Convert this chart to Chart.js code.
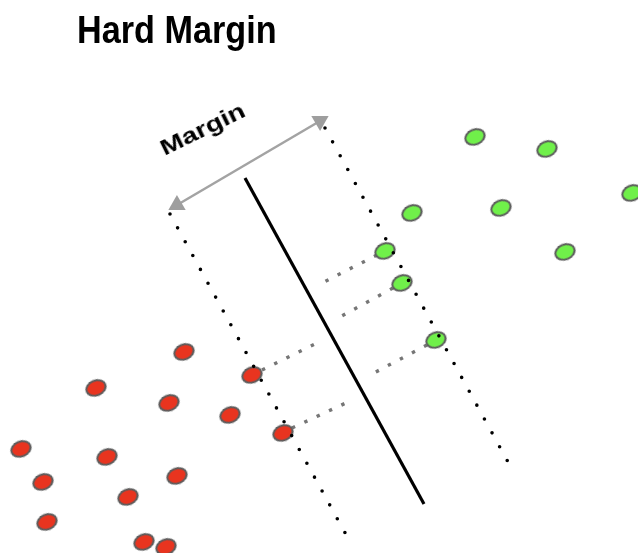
<!DOCTYPE html>
<html>
<head>
<meta charset="utf-8">
<script src="https://cdn.jsdelivr.net/npm/chart.js@4.4.0/dist/chart.umd.min.js"></script>
<style>
  body { margin: 0; background: #fff; }
  #wrap { position: relative; width: 638px; height: 553px; }
  #title {
    position: absolute; left: 77px; top: 9px; line-height: 38px;
    font: bold 38px "Liberation Sans", Arial, sans-serif; color: #000;
    transform: scaleX(0.9); transform-origin: left top; white-space: nowrap;
  }
  #marginLabel {
    position: absolute; left: 164px; top: 136px; line-height: 22px;
    font: bold 22px "Liberation Sans", Arial, sans-serif; color: #000;
    transform: rotate(-26deg) scaleX(1.27); transform-origin: 0 18.6px; white-space: nowrap;
  }
</style>
</head>
<body>
<div id="wrap">
  <canvas id="svmChart"></canvas>
  <div id="title">Hard Margin</div>
  <div id="marginLabel">Margin</div>
</div>
<script>
// class -1 points (red) and class +1 points (green), in picture units
const redX = [184, 96, 169, 230, 252, 283, 21, 107, 177, 43, 128, 47, 144, 166];
const redY = [352, 388, 403, 415, 375, 433, 449, 457, 476, 482, 497, 522, 542, 547];
const greenX = [475, 547, 632, 412, 501, 565, 385, 402, 436];
const greenY = [137, 149, 193, 213, 208, 252, 251, 283, 340];

// separating line and the two margin lines
const hyperplane = [[245, 178], [424, 504]];
const marginLeft = [[170, 214], [349, 540]];
const marginRight = [[325, 128], [508, 462]];

// distances from support vectors to the separating line
const supportLinks = [
  [[377, 255], [320, 284]],
  [[393, 288], [338, 318]],
  [[427, 345], [372, 374]],
  [[262, 370], [317, 343]],
  [[292, 428], [348, 402]]
];

// the "Margin" double arrow
const marginArrow = [[177, 205], [320, 121]];

const toXY = (pts) => pts.map((p) => ({ x: p[0], y: p[1] }));

function makeEllipse(fill) {
  const c = document.createElement("canvas");
  c.width = 25;
  c.height = 20;
  const g = c.getContext("2d");
  g.beginPath();
  g.ellipse(12.5, 10, 9.9, 7.5, 0, 0, Math.PI * 2);
  g.fillStyle = fill;
  g.fill();
  g.lineWidth = 2;
  g.strokeStyle = "#5c5c5c";
  g.stroke();
  return c;
}

const arrowAngle = Math.atan2(marginArrow[1][1] - marginArrow[0][1], marginArrow[1][0] - marginArrow[0][0]) * 180 / Math.PI;

const datasets = [
  {
    label: "arrow",
    data: toXY(marginArrow),
    showLine: true,
    borderColor: "#a3a3a3",
    borderWidth: 2.5,
    pointStyle: "triangle",
    pointRadius: 10,
    pointRotation: [arrowAngle + 270, arrowAngle + 90],
    pointBackgroundColor: "#9e9e9e",
    pointBorderWidth: 0,
    order: 1
  },
  {
    label: "margin left",
    data: toXY(marginLeft),
    showLine: true,
    borderColor: "#000",
    borderWidth: 3.6,
    borderDash: [0, 15.8],
    borderCapStyle: "round",
    pointRadius: 0,
    order: 2
  },
  {
    label: "margin right",
    data: toXY(marginRight),
    showLine: true,
    borderColor: "#000",
    borderWidth: 3.6,
    borderDash: [0, 15.8],
    borderCapStyle: "round",
    pointRadius: 0,
    order: 2
  },
  {
    label: "hyperplane",
    data: toXY(hyperplane),
    showLine: true,
    borderColor: "#000",
    borderWidth: 3.2,
    pointRadius: 0,
    order: 3
  },
  {
    label: "red",
    data: redX.map((x, i) => ({ x: x, y: redY[i] })),
    pointStyle: makeEllipse("#e8341f"),
    pointRotation: -22,
    order: 4
  },
  {
    label: "green",
    data: greenX.map((x, i) => ({ x: x, y: greenY[i] })),
    pointStyle: makeEllipse("#70f04a"),
    pointRotation: -22,
    order: 4
  }
];

supportLinks.forEach((link, i) => {
  datasets.push({
    label: "link " + i,
    data: toXY(link),
    showLine: true,
    borderColor: "#767676",
    borderWidth: 3.4,
    borderDash: [3.4, 10.2],
    pointRadius: 0,
    order: 6
  });
});

new Chart(document.getElementById("svmChart"), {
  type: "scatter",
  data: { datasets: datasets },
  options: {
    responsive: true,
    maintainAspectRatio: false,
    animation: false,
    events: [],
    layout: { padding: 0, autoPadding: false },
    plugins: {
      legend: { display: false },
      tooltip: { enabled: false }
    },
    scales: {
      x: { type: "linear", min: 0, max: 638, display: false },
      y: { type: "linear", min: 0, max: 553, reverse: true, display: false }
    }
  }
});
</script>
</body>
</html>
